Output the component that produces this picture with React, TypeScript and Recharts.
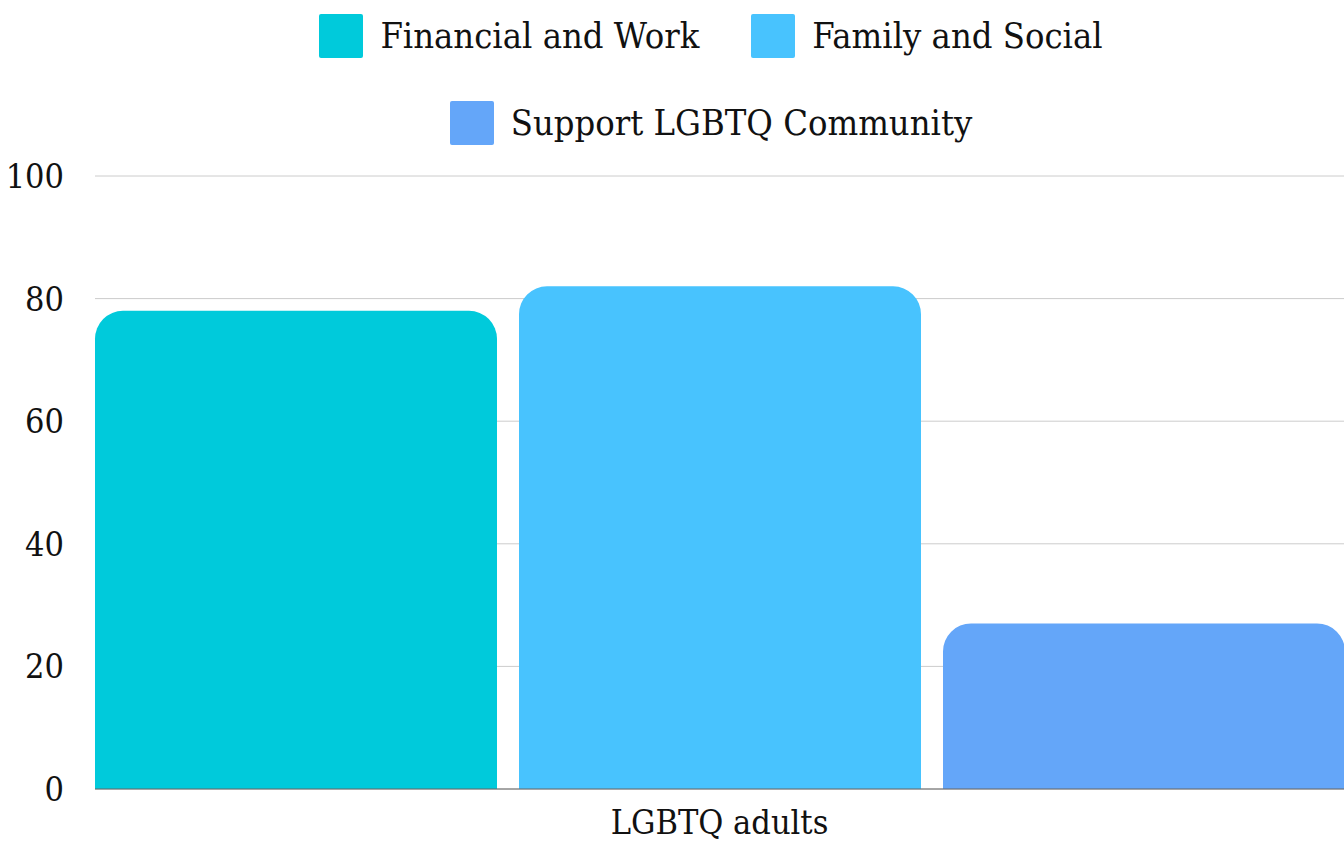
import { BarChart, Bar, CartesianGrid, XAxis, YAxis, Legend } from "recharts";

const categories = ["LGBTQ adults"];
const seriesNames = ["Financial and Work", "Family and Social", "Support LGBTQ Community"];
const seriesValues = [[78], [82], [27]];
const seriesColors = ["#00CADB", "#48C3FE", "#64A6F9"];
const yTicks = [0, 20, 40, 60, 80, 100];

const FONT = "'DejaVu Serif Condensed', 'DejaVu Serif', serif";

const data = categories.map((name, i) => {
  const row: Record<string, string | number> = { name };
  seriesNames.forEach((s, j) => {
    row[s] = seriesValues[j][i];
  });
  return row;
});

function LegendBox() {
  return (
    <div
      style={{
        display: "flex",
        flexWrap: "wrap",
        justifyContent: "center",
        width: 900,
        margin: "0 auto",
        fontFamily: FONT,
        fontSize: 36,
        color: "#111",
      }}
    >
      {seriesNames.map((s, i) => (
        <div
          key={s}
          style={{
            display: "flex",
            alignItems: "center",
            height: 87,
            margin: "0 26px",
          }}
        >
          <span
            style={{
              width: 44,
              height: 44,
              borderRadius: 2,
              background: seriesColors[i],
              marginRight: 17,
              display: "inline-block",
            }}
          />
          <span>{s}</span>
        </div>
      ))}
    </div>
  );
}

export default function App() {
  return (
    <div style={{ position: "absolute", left: 0, top: 0, background: "#fff" }}>
      <BarChart
        width={1344}
        height={842}
        data={data}
        margin={{ top: 2, right: 0, bottom: 0, left: 0 }}
        barCategoryGap={0}
        barGap={22}
      >
        <Legend
          verticalAlign="top"
          align="center"
          content={() => <LegendBox />}
          wrapperStyle={{ left: 39, width: 1344, top: -8 }}
        />
        <CartesianGrid vertical={false} stroke="#cccccc" />
        <XAxis
          dataKey="name"
          height={53}
          tickSize={0}
          tickMargin={21}
          axisLine={{ stroke: "#666666" }}
          tick={{ fill: "#111", fontSize: 34, fontFamily: FONT }}
        />
        <YAxis
          width={95}
          domain={[0, 100]}
          ticks={yTicks}
          tickSize={0}
          tickMargin={31}
          axisLine={false}
          tick={{ fill: "#111", fontSize: 34, fontFamily: FONT }}
        />
        {seriesNames.map((s, i) => (
          <Bar
            key={s}
            dataKey={s}
            fill={seriesColors[i]}
            radius={[28, 28, 0, 0]}
            isAnimationActive={false}
          />
        ))}
      </BarChart>
    </div>
  );
}
